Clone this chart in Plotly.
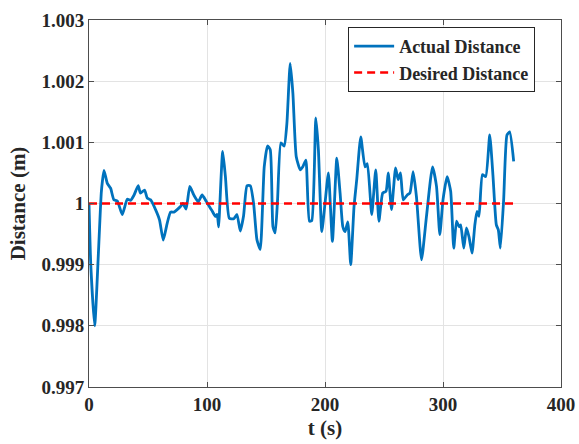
import plotly.graph_objects as go

# Time samples (s)
t = [0, 1.5, 4.8, 8, 10.5, 12.7, 15.5, 18.3, 21.1, 24, 28.2, 32.4, 35.2, 38, 41.7,
     43.6, 47.1, 49.3, 52.2, 56.4, 59.8, 62.9, 66.3, 69.1, 72, 74.7, 77.5, 79.5,
     82.3, 85.4, 88.8, 92.5, 95.9, 99.2, 102, 104.3, 107.1, 108.6, 109.9, 110.8,
     113.3, 115.6, 118.9, 122.7, 125.4, 128.2, 131, 133.9, 136.7, 139.5, 142.3,
     145.1, 148.5, 151.3, 153.6, 155.9, 157.8, 159.8, 162.6, 165.4, 167.7, 170.5,
     172.8, 175.6, 179, 181.2, 183.8, 186.8, 188.8, 192.2, 194.4, 197.3, 200,
     202.9, 206.3, 210, 212.8, 215.1, 217, 219.3, 221.8, 224.6, 226.9, 230.3,
     233.9, 235.9, 239.6, 243, 245.7, 248.9, 251.7, 253.6, 256.4, 259.8, 262, 264,
     266.3, 269.7, 272, 274.7, 277.5, 281.8, 286, 291.1, 294.5, 297.3, 300, 303.5,
     306.5, 309.1, 311.5, 313.7, 315, 317.6, 319.9, 322.1, 324.6, 327, 328.8,
     330.5, 333.4, 336.2, 339.6, 342.4, 345.2, 346.9, 348.6, 351.4, 354.2, 356.5,
     359.9]

# Measured distance (m)
actual = [1.00000, 0.99900, 0.99800, 0.99920, 1.00020, 1.00054, 1.00033, 1.00025,
          1.00006, 1.00004, 0.99982, 1.00007, 1.00005, 1.00013, 1.00029, 1.00017,
          1.00022, 1.00009, 1.00006, 0.99990, 0.99973, 0.99940, 0.99968, 0.99986,
          0.99986, 0.99990, 0.99995, 1.00000, 0.99991, 1.00028, 1.00014, 1.00003,
          1.00014, 1.00004, 0.99995, 0.99988, 0.99979, 0.99982, 0.99962, 0.99995,
          1.00085, 1.00044, 0.99976, 0.99975, 0.99982, 0.99955, 0.99980, 1.00029,
          1.00029, 1.00000, 0.99941, 0.99925, 1.00060, 1.00094, 1.00088, 0.99962,
          0.99952, 1.00006, 1.00099, 1.00094, 1.00131, 1.00229, 1.00180, 1.00077,
          1.00055, 1.00060, 1.00071, 0.99971, 0.99972, 1.00140, 1.00088, 0.99954,
          1.00000, 1.00050, 0.99938, 1.00074, 1.00017, 0.99962, 0.99954, 0.99970,
          0.99900, 0.99995, 1.00039, 1.00109, 1.00060, 1.00065, 0.99982, 1.00055,
          0.99971, 1.00017, 1.00020, 1.00050, 0.99990, 1.00058, 1.00039, 1.00050,
          1.00006, 1.00014, 1.00017, 1.00052, 1.00011, 0.99908, 0.99979, 1.00060,
          1.00028, 0.99949, 1.00006, 1.00044, 1.00020, 0.99927, 0.99971, 0.99962,
          0.99965, 0.99927, 0.99960, 0.99945, 0.99919, 0.99965, 0.99987, 0.99979,
          1.00047, 1.00044, 1.00112, 1.00044, 0.99965, 0.99957, 0.99927, 1.00006,
          1.00112, 1.00117, 1.00069]

# Reference distance (m)
desired_t = [0, 360]
desired = [1.0, 1.0]

font_family = "Liberation Serif, Times New Roman, serif"
ink = "#262626"

fig = go.Figure()
fig.add_trace(go.Scatter(
    x=t, y=actual, mode="lines", name="Actual Distance",
    line=dict(color="#0072BD", width=2.8, shape="spline", smoothing=0.5),
))
fig.add_trace(go.Scatter(
    x=desired_t, y=desired, mode="lines", name="Desired Distance",
    line=dict(color="#FF0000", width=2.5, dash="8px,5px"),
))

axis_common = dict(
    showline=True, linecolor="#4d4d4d", linewidth=1, mirror="ticks",
    ticks="inside", ticklen=5, tickcolor="#4d4d4d",
    showgrid=True, gridcolor="#e3e3e3", gridwidth=1, zeroline=False,
    automargin=False,
    tickfont=dict(family=font_family, size=19, color=ink, weight="bold"),
)

title_font = dict(family=font_family, size=21, color=ink, weight="bold")

fig.update_layout(
    width=579, height=444,
    margin=dict(l=89, r=18, t=20, b=57),
    paper_bgcolor="white", plot_bgcolor="white",
    font=dict(family=font_family, color=ink),
    xaxis=dict(
        range=[0, 400], tickvals=[0, 100, 200, 300, 400],
        title=dict(text="t (s)", standoff=6, font=title_font),
        **axis_common,
    ),
    yaxis=dict(
        range=[0.997, 1.003],
        tickvals=[0.997, 0.998, 0.999, 1.0, 1.001, 1.002, 1.003],
        ticktext=["0.997", "0.998", "0.999", "1", "1.001", "1.002", "1.003"],
        title=dict(text="Distance (m)", standoff=10, font=title_font),
        **axis_common,
    ),
    legend=dict(
        x=0.549, y=0.981, xanchor="left", yanchor="top",
        bgcolor="white", bordercolor="#262626", borderwidth=1,
        font=dict(family=font_family, size=18, color=ink, weight="bold"),
        tracegroupgap=0, itemwidth=40,
    ),
    showlegend=True,
)

fig.write_html("out.html")
